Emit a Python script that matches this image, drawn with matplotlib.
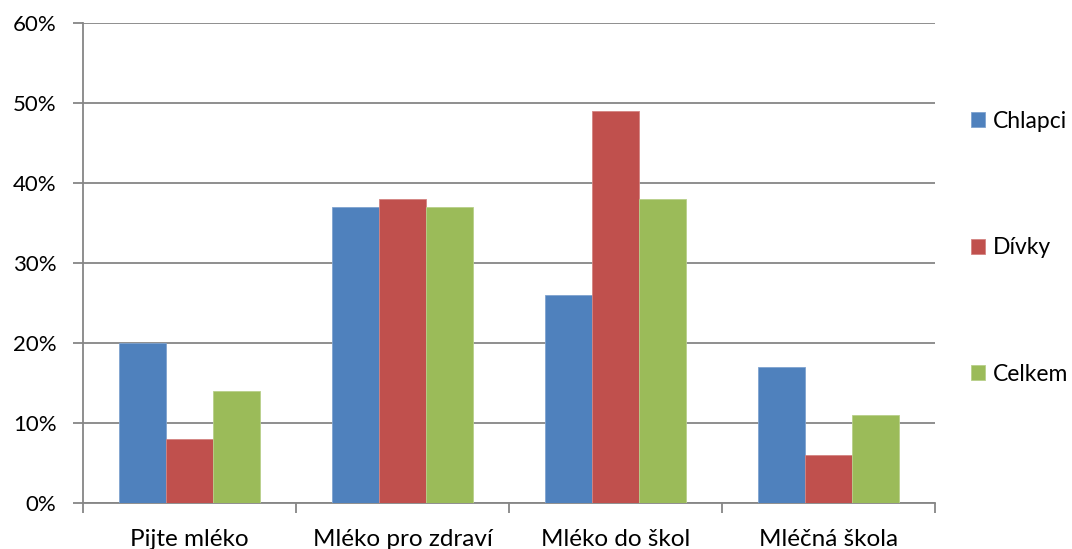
import matplotlib
matplotlib.use("Agg")
import matplotlib.pyplot as plt
import numpy as np

plt.rcParams['font.family'] = ['Lato', 'DejaVu Sans']

categories = ["Pijte mléko", "Mléko pro zdraví", "Mléko do škol", "Mléčná škola"]
series_names = ["Chlapci", "Dívky", "Celkem"]
chlapci = [20, 37, 26, 17]
divky = [8, 38, 49, 6]
celkem = [14, 37, 38, 11]
colors = ["#4F81BD", "#C0504D", "#9BBB59"]
edges = ["#7FA3CF", "#D48482", "#B8D08A"]
y_ticks = [0, 10, 20, 30, 40, 50, 60]

fig = plt.figure(figsize=(10.72, 5.49), dpi=100)
ax = fig.add_axes([0.0774, 0.0838, 0.7948, 0.8743])

x = np.arange(len(categories))
width = 0.22
for i, (vals, name) in enumerate(zip([chlapci, divky, celkem], series_names)):
    ax.bar(x + (i - 1) * width, vals, width, color=colors[i], edgecolor=edges[i],
           linewidth=0.6, label=name, zorder=3)

ax.set_xlim(-0.5, len(categories) - 0.5)
ax.set_ylim(0, 60)
ax.set_yticks(y_ticks)
ax.set_yticklabels([f"{t}%" for t in y_ticks])
ax.grid(axis='y', color='#868686', linewidth=1.3, zorder=0)

# category boundaries carry the tick marks, labels sit in the middle
ax.set_xticks(np.arange(len(categories) + 1) - 0.5)
ax.set_xticklabels([])
ax.set_xticks(x, minor=True)
ax.set_xticklabels(categories, minor=True)
ax.tick_params(axis='x', which='major', length=7, width=1.3, color='#868686')
ax.tick_params(axis='x', which='minor', length=0, pad=19, labelsize=17.5)
ax.tick_params(axis='y', length=7, width=1.3, color='#868686', pad=12, labelsize=16)

for s in ['top', 'right']:
    ax.spines[s].set_visible(False)
for s in ['left', 'bottom']:
    ax.spines[s].set_color('#868686')
    ax.spines[s].set_linewidth(1.3)

fig.legend(loc='upper left', bbox_to_anchor=(0.897, 0.815), frameon=False,
           fontsize=16.5, handlelength=0.62, handleheight=0.62, handletextpad=0.35,
           labelspacing=4.6, borderaxespad=0)

fig.savefig("out.png", dpi=100)
